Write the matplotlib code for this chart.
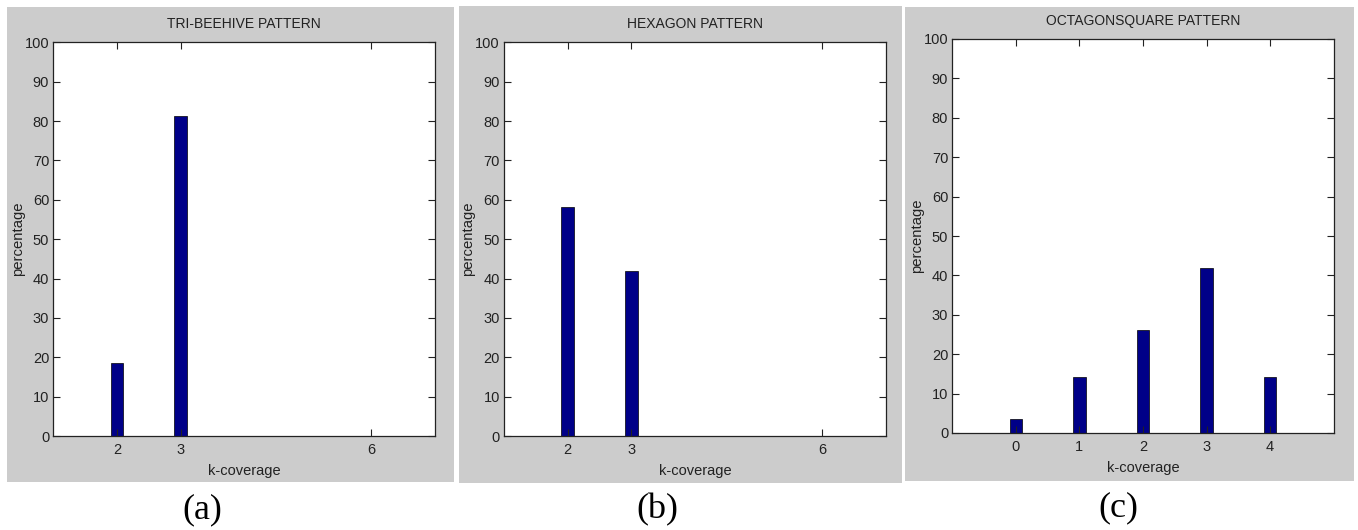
import matplotlib
matplotlib.use("Agg")
import matplotlib.pyplot as plt
from matplotlib.patches import Rectangle

# ---- data ------------------------------------------------------------------
titles = ["TRI-BEEHIVE PATTERN", "HEXAGON PATTERN", "OCTAGONSQUARE PATTERN"]
panel_tags = ["(a)", "(b)", "(c)"]

k_tri = [2, 3, 6]
pct_tri = [18.6, 81.4, 0.0]

k_hex = [2, 3, 6]
pct_hex = [58.1, 41.9, 0.0]

k_oct = [0, 1, 2, 3, 4]
pct_oct = [3.6, 14.2, 26.2, 41.9, 14.2]

xlims = [(1, 7), (1, 7), (-1, 5)]
yticks = list(range(0, 101, 10))

# ---- layout (pixel boxes in the 1358x530 canvas) ---------------------------
W, H = 1358, 530
GRAY = "#cccccc"
BAR = "#000088"
INK = "#222222"
SANS = ["Liberation Sans", "DejaVu Sans"]

panels_px = [(7, 7, 454, 482), (459, 6, 902, 483), (905, 7, 1354, 481)]
axes_px = [(53.3, 42.3, 435, 436), (504, 42.3, 885.7, 436), (952.3, 39, 1333.7, 433)]
tag_xy = [(202, 510), (657, 510), (1118, 508)]


def fbox(x0, y0, x1, y1):
    return [x0 / W, 1 - y1 / H, (x1 - x0) / W, (y1 - y0) / H]


fig = plt.figure(figsize=(W / 100, H / 100), dpi=100)
fig.patch.set_facecolor("white")

for (x0, y0, x1, y1) in panels_px:
    fig.patches.append(Rectangle((x0 / W, 1 - y1 / H), (x1 - x0) / W, (y1 - y0) / H,
                                 transform=fig.transFigure, facecolor=GRAY,
                                 edgecolor="none", zorder=-5))

series = [(k_tri, pct_tri), (k_hex, pct_hex), (k_oct, pct_oct)]
for i, ((ks, vals), box) in enumerate(zip(series, axes_px)):
    ax = fig.add_axes(fbox(*box))
    ax.set_zorder(2)
    ax.set_facecolor("white")
    ax.bar(ks, vals, width=0.2, color=BAR, edgecolor="black", linewidth=0.5)
    ax.set_xlim(*xlims[i])
    ax.set_ylim(0, 100)
    ax.set_xticks(ks)
    ax.set_yticks(yticks)
    ax.tick_params(direction="in", length=5, width=0.8, top=True, right=True,
                   colors=INK, labelsize=10.5)
    ax.tick_params(axis="x", pad=5)
    ax.tick_params(axis="y", pad=3)
    for lab in ax.get_xticklabels() + ax.get_yticklabels():
        lab.set_family(SANS)
    for sp in ax.spines.values():
        sp.set_color(INK)
        sp.set_linewidth(0.9)
    ax.set_title(titles[i], fontsize=10, family=SANS, color=INK, pad=10)
    ax.set_xlabel("k-coverage", fontsize=10.5, family=SANS, color=INK)
    ax.xaxis.set_label_coords(0.5, -0.088)
    ax.xaxis.label.set_va("center")
    ax.set_ylabel("percentage", fontsize=10.7, family=SANS, color=INK)
    ax.yaxis.set_label_coords(-0.093, 0.5)
    ax.yaxis.label.set_va("center")

for tag, (x, y) in zip(panel_tags, tag_xy):
    fig.text(x / W, 1 - y / H, tag, ha="center", va="center", fontsize=26,
             family=["Liberation Serif", "DejaVu Serif"], color="black")

fig.savefig("out.png", dpi=100, facecolor="white")
